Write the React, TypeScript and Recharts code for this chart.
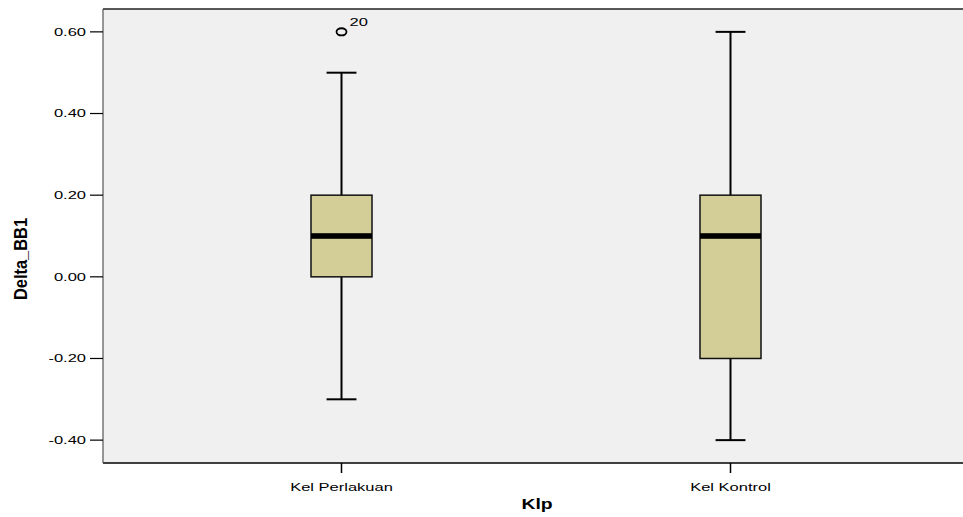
import {
  Bar,
  CartesianGrid,
  ComposedChart,
  ReferenceLine,
  Scatter,
  XAxis,
  YAxis,
} from "recharts";

const categories = ["Kel Perlakuan", "Kel Kontrol"];
const whiskerLow = [-0.3, -0.4];
const quartile1 = [0.0, -0.2];
const medians = [0.1, 0.1];
const quartile3 = [0.2, 0.2];
const whiskerHigh = [0.5, 0.6];

const outlierCategory = ["Kel Perlakuan"];
const outlierValue = [0.6];
const outlierCase = ["20"];

const yTicks = [-0.4, -0.2, 0.0, 0.2, 0.4, 0.6];
const Y_MIN = -0.456;
const Y_MAX = 0.656;

const FONT = "'Liberation Sans', Arial, sans-serif";
const STRETCH = 1.5;
const BOX_FILL = "#d3ce98";

const data = categories.map((name, i) => ({
  name,
  range: [whiskerLow[i], whiskerHigh[i]],
  low: whiskerLow[i],
  q1: quartile1[i],
  med: medians[i],
  q3: quartile3[i],
  high: whiskerHigh[i],
}));

const outliers = outlierCategory.map((name, i) => ({
  name,
  value: outlierValue[i],
  id: outlierCase[i],
}));

function BoxShape(props: any) {
  const { x, y, width, height, payload } = props;
  if (!payload || !height) return null;
  const { low, q1, med, q3, high } = payload;
  const perUnit = height / (high - low);
  const yOf = (v: number) => y + (high - v) * perUnit;
  const cx = x + width / 2;
  const cap = width * 0.49;
  const boxTop = yOf(q3);
  const boxBottom = yOf(q1);
  return (
    <g>
      <line x1={cx} x2={cx} y1={yOf(high)} y2={yOf(low)} stroke="#000" strokeWidth={2} />
      <line x1={cx - cap / 2} x2={cx + cap / 2} y1={yOf(high)} y2={yOf(high)} stroke="#000" strokeWidth={2} />
      <line x1={cx - cap / 2} x2={cx + cap / 2} y1={yOf(low)} y2={yOf(low)} stroke="#000" strokeWidth={2} />
      <rect
        x={x}
        y={boxTop}
        width={width}
        height={boxBottom - boxTop}
        fill={BOX_FILL}
        stroke="#111"
        strokeWidth={1.5}
      />
      <rect x={x} y={yOf(med) - 2.8} width={width} height={5.6} fill="#000" />
    </g>
  );
}

function OutlierShape(props: any) {
  const { cx, cy, payload } = props;
  if (cx == null || cy == null) return null;
  return (
    <g>
      <ellipse cx={cx} cy={cy} rx={5} ry={3.6} fill="none" stroke="#000" strokeWidth={1.8} />
      <g transform={`translate(${cx + 8},${cy - 5.5}) scale(${STRETCH},1)`}>
        <text x={0} y={0} fontSize={11} fontFamily={FONT} fill="#000">
          {payload.id}
        </text>
      </g>
    </g>
  );
}

function YTick(props: any) {
  const { x, y, payload } = props;
  return (
    <g transform={`translate(${x},${y}) scale(${STRETCH},1)`}>
      <text x={0} y={0} dy="0.36em" textAnchor="end" fontSize={11} fontFamily={FONT} fill="#000">
        {Number(payload.value).toFixed(2)}
      </text>
    </g>
  );
}

function XTick(props: any) {
  const { x, y, payload } = props;
  return (
    <g transform={`translate(${x},${y}) scale(${STRETCH},1)`}>
      <text x={0} y={0} dy="0.71em" textAnchor="middle" fontSize={11} fontFamily={FONT} fill="#000">
        {payload.value}
      </text>
    </g>
  );
}

function XTitle(props: any) {
  const { viewBox } = props;
  const cx = viewBox.x + viewBox.width / 2 + 4;
  return (
    <g transform={`translate(${cx},509) scale(1.38,1)`}>
      <text x={0} y={0} textAnchor="middle" fontSize={14} fontWeight="bold" fontFamily={FONT} fill="#000">
        Klp
      </text>
    </g>
  );
}

function YTitle() {
  return (
    <g transform="translate(27,259) rotate(-90) scale(1.37,1.5)">
      <text x={0} y={0} textAnchor="middle" fontSize={12} fontWeight="bold" fontFamily={FONT} fill="#000">
        Delta_BB1
      </text>
    </g>
  );
}

export default function App() {
  return (
    <div style={{ position: "absolute", left: 0, top: 0, background: "#fff" }}>
      <ComposedChart
        width={963}
        height={517}
        data={data}
        margin={{ top: 9, right: 0, bottom: 0, left: 0 }}
      >
        <CartesianGrid fill="#f0f0f0" horizontal={false} vertical={false} />
        <XAxis
          dataKey="name"
          type="category"
          allowDuplicatedCategory={false}
          height={54}
          padding={{ left: 44, right: 38 }}
          axisLine={{ stroke: "#000", strokeWidth: 1.5 }}
          tickLine={{ stroke: "#000", strokeWidth: 1.5 }}
          tickSize={10}
          tickMargin={10}
          tick={<XTick />}
          label={<XTitle />}
        />
        <YAxis
          type="number"
          domain={[Y_MIN, Y_MAX]}
          ticks={yTicks}
          width={103}
          allowDataOverflow
          axisLine={{ stroke: "#555", strokeWidth: 1.2 }}
          tickLine={{ stroke: "#000", strokeWidth: 1.2 }}
          tickSize={13}
          tickMargin={4}
          tick={<YTick />}
          label={<YTitle />}
        />
        <ReferenceLine y={Y_MAX} stroke="#222" strokeWidth={1.5} />
        <Bar dataKey="range" barSize={61} shape={<BoxShape />} isAnimationActive={false} />
        <Scatter data={outliers} dataKey="value" shape={<OutlierShape />} isAnimationActive={false} />
      </ComposedChart>
    </div>
  );
}
